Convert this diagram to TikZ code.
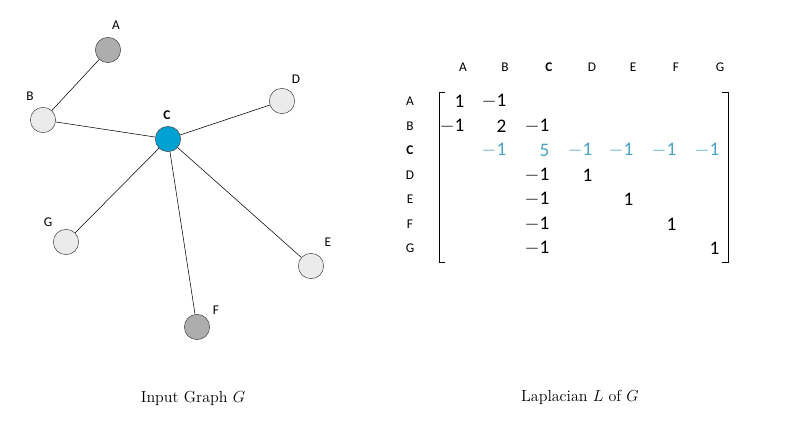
\documentclass[tikz,border=0pt]{standalone}
\usepackage{fontspec}
\setsansfont{Carlito}
\begin{document}
\begin{tikzpicture}[x=0.75pt,y=-0.75pt]
\tikzset{vert/.style={circle,draw=black!70,inner sep=0pt,minimum size=19pt},
  light/.style={vert,fill=black!8}, dark/.style={vert,fill=black!32},
  lab/.style={font=\sffamily},
  ent/.style={font=\sffamily\Large,anchor=east}}
\definecolor{hub}{HTML}{00A2D4}
\definecolor{hubtext}{HTML}{4AA3C0}
\useasboundingbox (0,0) rectangle (792,424);
% graph
\node[dark]  (A) at (108,50) {};
\node[light] (B) at (43,120) {};
\node[vert,fill=hub] (C) at (168,139) {};
\node[light] (D) at (282,101) {};
\node[light] (G) at (66,242) {};
\node[light] (E) at (311,266) {};
\node[dark]  (F) at (197,327) {};
\foreach \v in {B,D,G,E,F} \draw (C) -- (\v);
\draw (A) -- (B);
\node[lab] (lA) at (116,25) {A};
\node[lab] (lB) at (30,96) {B};
\node[lab] (lC) at (167,115) {\bfseries C};
\node[lab] (lD) at (296,79) {D};
\node[lab] (lE) at (328,242) {E};
\node[lab] (lF) at (216,310) {F};
\node[lab] (lG) at (48,222) {G};
% matrix
\foreach \n [count=\i] in {A,B,C,D,E,F,G} {
  \pgfmathsetmacro\cx{{463,505,549,592,633,676,720}[\i-1]}
  \pgfmathsetmacro\ry{{101,126,150,175,199,224,248}[\i-1]}
  \ifnum\i=3
    \node[lab] (h\n) at (\cx,67) {\bfseries \n};
    \node[lab] (r\n) at (410,\ry) {\bfseries \n};
  \else
    \node[lab] (h\n) at (\cx,67) {\n};
    \node[lab] (r\n) at (410,\ry) {\n};
  \fi}
\draw (445,92) -- (439,92) -- (439,262) -- (445,262);
\draw (722,92) -- (728,92) -- (728,262) -- (722,262);
\node[ent] (m11) at (469,101) {1};
\node[ent] (m12) at (511,101) {$-$1};
\node[ent] (m21) at (469,126) {$-$1};
\node[ent] (m22) at (511,126) {2};
\node[ent] (m23) at (554,126) {$-$1};
\foreach \cx [count=\j] in {511,554,597,638,681,724}
  \node[ent,text=hubtext] (mc\j) at (\cx,150) {\ifnum\j=2 5\else$-$1\fi};
\node[ent] (m43) at (554,175) {$-$1};
\node[ent] (m44) at (597,175) {1};
\node[ent] (m53) at (554,199) {$-$1};
\node[ent] (m55) at (638,199) {1};
\node[ent] (m63) at (554,224) {$-$1};
\node[ent] (m66) at (681,224) {1};
\node[ent] (m73) at (554,248) {$-$1};
\node[ent] (m77) at (724,248) {1};
% captions
\node[font=\large] (cap1) at (193,398) {Input Graph $G$};
\node[font=\large] (cap2) at (580,397) {Laplacian $L$ of $G$};
\end{tikzpicture}
\end{document}
